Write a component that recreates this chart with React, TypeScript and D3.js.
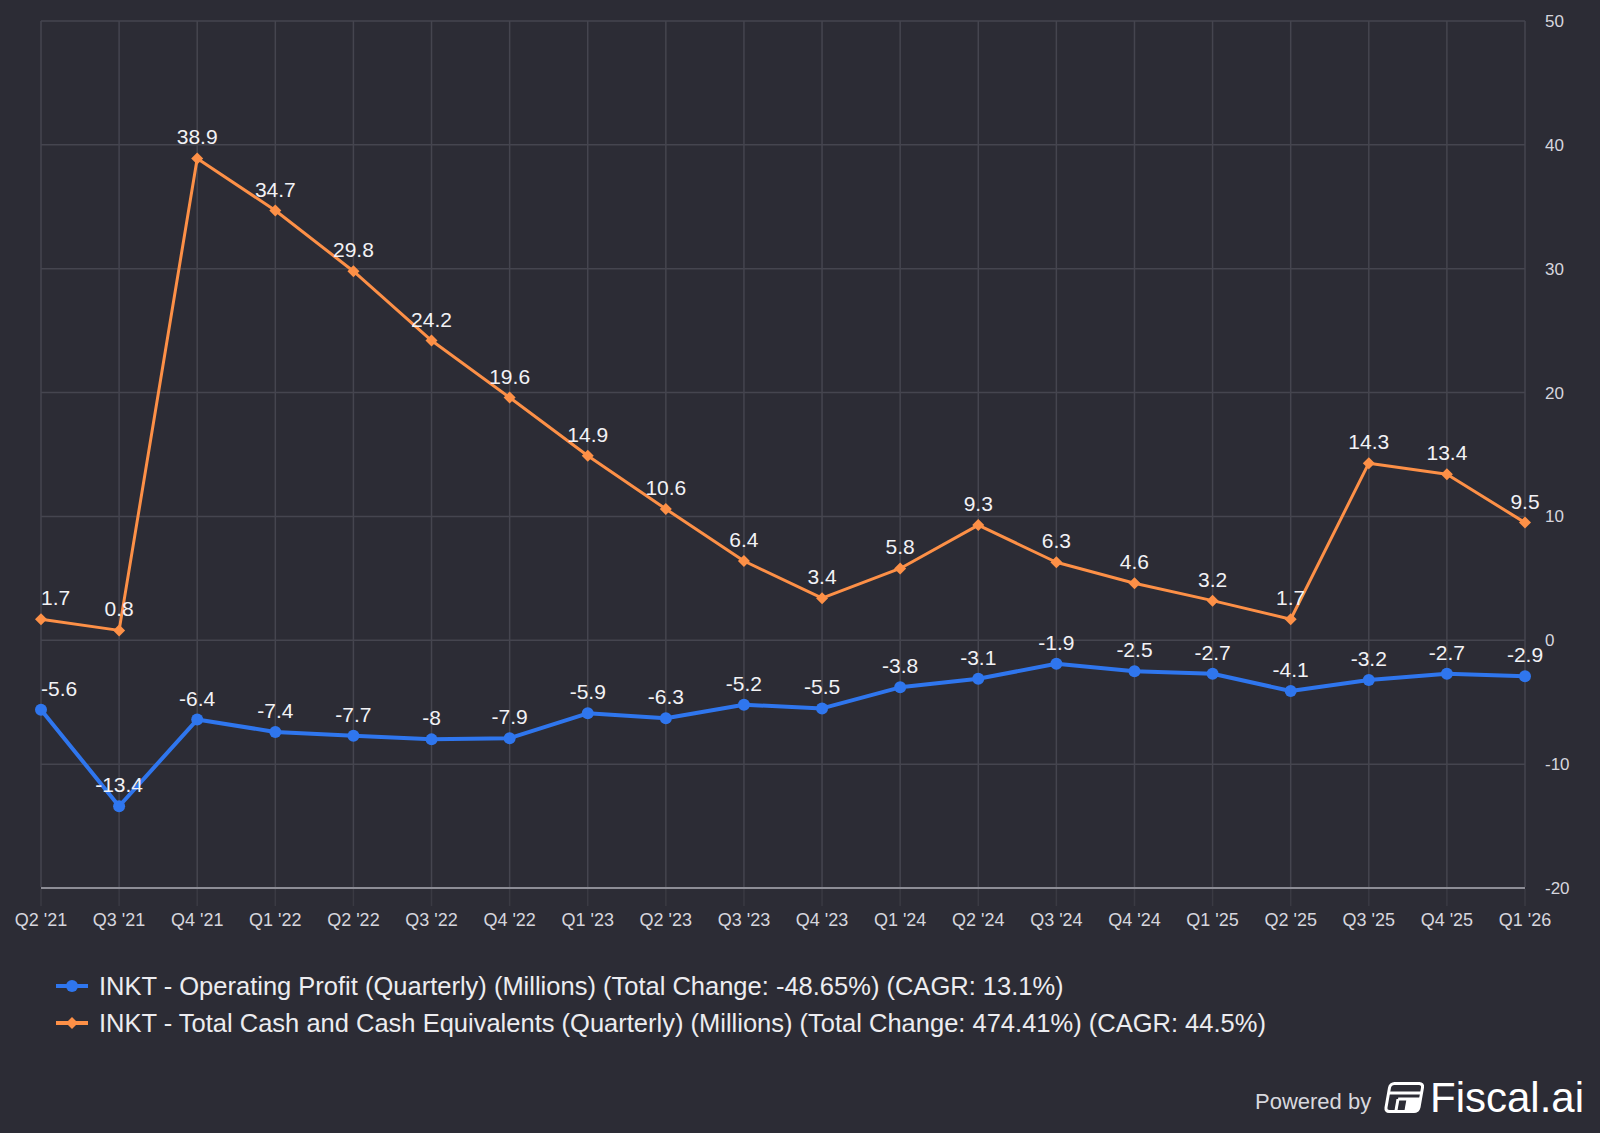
import React from "react";
import * as d3 from "d3";

const quarters = [
  "Q2 '21", "Q3 '21", "Q4 '21", "Q1 '22", "Q2 '22", "Q3 '22", "Q4 '22",
  "Q1 '23", "Q2 '23", "Q3 '23", "Q4 '23", "Q1 '24", "Q2 '24", "Q3 '24",
  "Q4 '24", "Q1 '25", "Q2 '25", "Q3 '25", "Q4 '25", "Q1 '26",
];

const operatingProfit = [
  -5.6, -13.4, -6.4, -7.4, -7.7, -8, -7.9, -5.9, -6.3, -5.2, -5.5, -3.8,
  -3.1, -1.9, -2.5, -2.7, -4.1, -3.2, -2.7, -2.9,
];

const totalCash = [
  1.7, 0.8, 38.9, 34.7, 29.8, 24.2, 19.6, 14.9, 10.6, 6.4, 3.4, 5.8, 9.3,
  6.3, 4.6, 3.2, 1.7, 14.3, 13.4, 9.5,
];

const yTicks = [-20, -10, 0, 10, 20, 30, 40, 50];

const legendLabels = [
  "INKT - Operating Profit (Quarterly) (Millions) (Total Change: -48.65%) (CAGR: 13.1%)",
  "INKT - Total Cash and Cash Equivalents (Quarterly) (Millions) (Total Change: 474.41%) (CAGR: 44.5%)",
];

const W = 1600;
const H = 1133;
const BG = "#2c2c35";
const GRID = "#45454f";
const BLUE = "#2f76ee";
const ORANGE = "#fd9047";
const FONT = "'Liberation Sans', Arial, Helvetica, sans-serif";

const left = 41;
const right = 1525;
const top = 21;
const bottom = 888;

const App: React.FC = () => {
  const x = d3.scalePoint<string>().domain(quarters).range([left, right]);
  const y = d3.scaleLinear().domain([-20, 50]).range([bottom, top]);

  const line = d3
    .line<number>()
    .x((_, i) => x(quarters[i]) as number)
    .y((d) => y(d));

  const series = [
    { values: operatingProfit, color: BLUE, width: 4, marker: "circle" },
    { values: totalCash, color: ORANGE, width: 3, marker: "diamond" },
  ];

  return (
    <svg
      width={W}
      height={H}
      style={{ position: "absolute", left: 0, top: 0, background: BG }}
      fontFamily={FONT}
    >
      <rect width={W} height={H} fill={BG} />

      {/* horizontal grid */}
      {yTicks.map((t) => (
        <line
          key={"h" + t}
          x1={left}
          x2={right}
          y1={y(t)}
          y2={y(t)}
          stroke={t === -20 ? "#8d8d96" : GRID}
          strokeWidth={t === -20 ? 2 : 1.5}
        />
      ))}

      {/* vertical grid + ticks */}
      {quarters.map((q) => (
        <g key={"v" + q}>
          <line
            x1={x(q)}
            x2={x(q)}
            y1={top}
            y2={bottom - 1}
            stroke={GRID}
            strokeWidth={1.5}
          />
          <line
            x1={x(q)}
            x2={x(q)}
            y1={bottom + 1}
            y2={bottom + 18}
            stroke="#3a3a43"
            strokeWidth={1.5}
          />
          <text
            x={x(q)}
            y={926}
            fill="#d6d6de"
            fontSize={18}
            textAnchor="middle"
          >
            {q}
          </text>
        </g>
      ))}

      {/* y tick labels */}
      {yTicks.map((t) => (
        <text
          key={"yl" + t}
          x={right + 20}
          y={y(t)}
          dy="0.35em"
          fill="#d6d6de"
          fontSize={17}
        >
          {t}
        </text>
      ))}

      {/* series */}
      {series.map((s, si) => (
        <g key={"s" + si}>
          <path
            d={line(s.values) as string}
            fill="none"
            stroke={s.color}
            strokeWidth={s.width}
            strokeLinejoin="round"
          />
          {s.values.map((v, i) => {
            const px = x(quarters[i]) as number;
            const py = y(v);
            return s.marker === "circle" ? (
              <circle key={i} cx={px} cy={py} r={6} fill={s.color} />
            ) : (
              <path
                key={i}
                d={`M${px},${py - 6}L${px + 6},${py}L${px},${py + 6}L${px - 6},${py}Z`}
                fill={s.color}
              />
            );
          })}
          {s.values.map((v, i) => {
            const px = x(quarters[i]) as number;
            const py = y(v);
            return (
              <text
                key={"l" + i}
                x={i === 0 ? left : px}
                y={py - 14}
                fill="#f2f2f5"
                fontSize={21}
                textAnchor={i === 0 ? "start" : "middle"}
              >
                {String(v)}
              </text>
            );
          })}
        </g>
      ))}

      {/* legend */}
      {legendLabels.map((label, i) => {
        const ly = 986 + i * 37;
        const c = i === 0 ? BLUE : ORANGE;
        return (
          <g key={"lg" + i}>
            <line x1={56} x2={88} y1={ly} y2={ly} stroke={c} strokeWidth={4} />
            {i === 0 ? (
              <circle cx={72} cy={ly} r={6} fill={c} />
            ) : (
              <path
                d={`M72,${ly - 6}L78,${ly}L72,${ly + 6}L66,${ly}Z`}
                fill={c}
              />
            )}
            <text x={99} y={ly} dy="0.35em" fill="#ececf0" fontSize={25.5}>
              {label}
            </text>
          </g>
        );
      })}

      {/* branding */}
      <text x={1255} y={1109} fill="#d8d8de" fontSize={22}>
        Powered by
      </text>
      <g
        transform="translate(1383,1082) skewX(-10) translate(6,0)"
        fill="none"
        stroke="#ffffff"
        strokeWidth={3}
      >
        <rect x={1.5} y={1.5} width={33} height={28} rx={4} />
        <line x1={1.5} x2={34.5} y1={11} y2={11} />
        <line x1={12} x2={12} y1={17} y2={29.5} />
        <line x1={22} x2={22} y1={17} y2={29.5} />
        <line x1={12} x2={34.5} y1={17} y2={17} />
        <rect x={22} y={17} width={12.5} height={12.5} fill="#ffffff" stroke="none" />
      </g>
      <text x={1430} y={1112} fill="#ffffff" fontSize={42}>
        Fiscal.ai
      </text>
    </svg>
  );
};

export default App;
